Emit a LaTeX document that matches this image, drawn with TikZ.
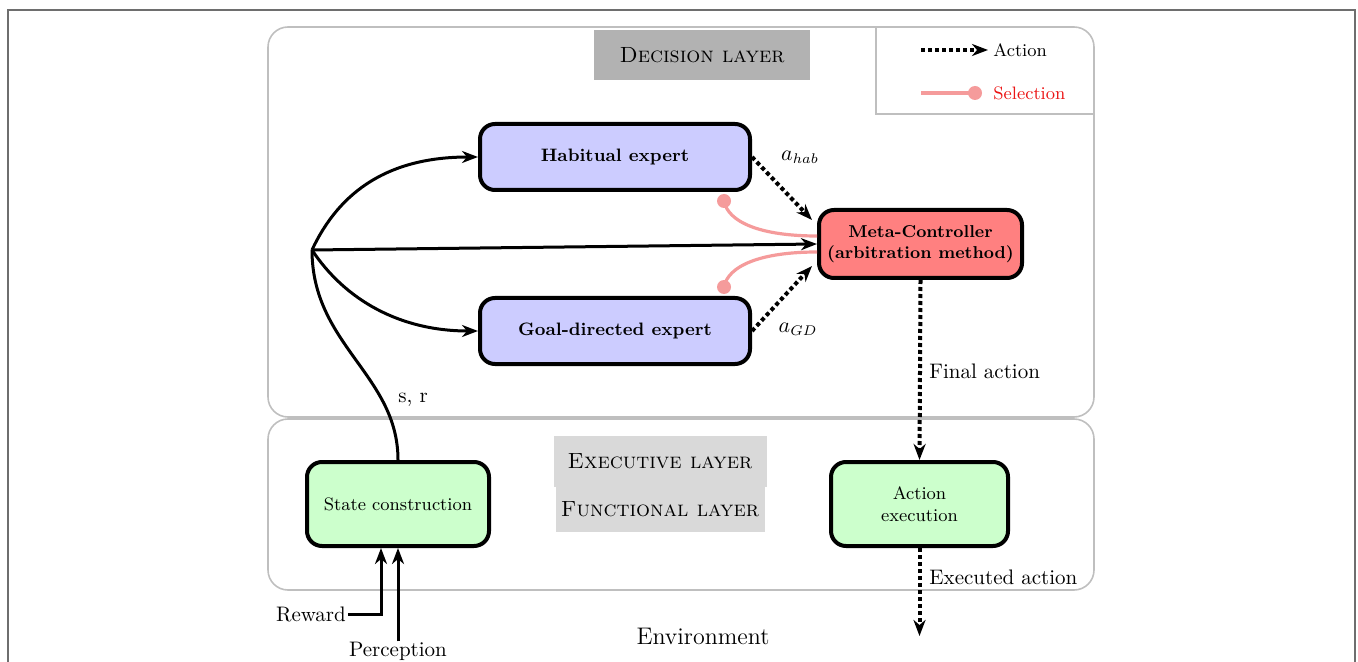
\documentclass[tikz,border=0pt]{standalone}
\usetikzlibrary{arrows.meta,calc}
\definecolor{boxblue}{RGB}{204,204,255}
\definecolor{boxred}{RGB}{255,128,128}
\definecolor{boxgreen}{RGB}{204,255,204}
\definecolor{selpink}{RGB}{245,155,155}
\definecolor{seltext}{RGB}{235,20,20}
\definecolor{framegray}{RGB}{110,110,110}
\tikzset{
  panel/.style={draw=gray!50, line width=0.8pt, rounded corners=10pt, inner sep=0pt},
  layerlabel/.style={inner sep=0pt, font=\fontsize{11}{13}\selectfont\scshape},
  blockbox/.style={draw=black, line width=2pt, rounded corners=7.5pt, inner sep=0pt, align=center},
  expertbox/.style={blockbox, fill=boxblue, minimum width=135pt, minimum height=33pt, font=\fontsize{9}{11}\selectfont\bfseries},
  metabox/.style={blockbox, fill=boxred, minimum width=101.5pt, minimum height=34pt, font=\fontsize{8.6}{10.6}\selectfont\bfseries},
  funcbox/.style={blockbox, fill=boxgreen, minimum height=42pt, font=\fontsize{9}{11}\selectfont},
  flow/.style={line width=1.5pt, -{Stealth[length=8pt,width=6pt,inset=2.5pt]}},
  actflow/.style={line width=2pt, dash pattern=on 2pt off 1.5pt, -{Stealth[length=8pt,width=6pt,inset=2.5pt]}},
  selflow/.style={line width=1.6pt, draw=selpink},
  seldot/.style={fill=selpink},
  lbl/.style={inner sep=0pt, font=\fontsize{10.5}{12.6}\selectfont},
}
\begin{document}
\begin{tikzpicture}[x=0.5pt,y=-0.5pt]
\useasboundingbox (0,0) rectangle (1358,662);
% outer frame
\draw[framegray, line width=1pt] (8,662) -- (8,10) -- (1355,10) -- (1355,662);
% layer panels
\node[panel, minimum width=413pt, minimum height=195pt] (decision) at (681,222) {};
\node[panel, minimum width=413pt, minimum height=85.5pt] (executive) at (681,504.5) {};
% legend frame
\draw[draw=gray!50, line width=0.8pt] (876,27) -- (876,114) -- (1094,114);
% layer labels
\node[layerlabel, fill=gray!60, minimum width=108pt, minimum height=25pt] (declbl) at (702,55) {Decision layer};
\node[layerlabel, fill=gray!30, minimum width=106.5pt, minimum height=25.5pt] (execlbl) at (660,461) {Executive layer};
\node[layerlabel, fill=gray!30, minimum width=104.5pt, minimum height=23pt] (funclbl) at (660,509) {Functional layer};
% legend
\coordinate (la1) at (921,50);
\coordinate (la2) at (988,50);
\draw[actflow] (la1) -- (la2);
\node[lbl, anchor=west, font=\fontsize{9}{11}\selectfont] (legact) at (993,50) {Action};
\coordinate (ls1) at (921,93);
\coordinate (ls2) at (975,93);
\draw[selflow] (ls1) -- (ls2);
\fill[seldot] (ls2) circle (3.5pt);
\node[lbl, anchor=west, text=seltext, font=\fontsize{9}{11}\selectfont] (legsel) at (993,93) {Selection};
% blocks
\node[expertbox] (hab) at (615,157) {Habitual expert};
\node[expertbox] (goal) at (615,331) {Goal-directed expert};
\node[metabox] (meta) at (920.5,244) {Meta-Controller\\(arbitration method)};
\node[funcbox, minimum width=91pt] (state) at (398,504) {State construction};
\node[funcbox, minimum width=88.5pt] (act) at (919.5,504) {Action\\execution};
% branch point
\coordinate (br) at (312,250);
\draw[flow] (br) .. controls (340,190) and (390,157) .. (hab.west);
\draw[flow] (br) .. controls (345,300) and (400,331) .. (goal.west);
\draw[flow] (br) -- (meta.west);
\draw[line width=1.5pt] (state.north) .. controls (398,375) and (312,345) .. (br);
\node[lbl, anchor=west] (sr) at (398,400) {s, r};
% selection curves
\coordinate (selh) at (724,201);
\coordinate (selg) at (724,287);
\draw[selflow] ($(meta.west)+(0,-8)$) .. controls (760,236) and (728,222) .. (selh);
\draw[selflow] ($(meta.west)+(0,8)$) .. controls (760,252) and (728,266) .. (selg);
\fill[seldot] (selh) circle (3.5pt);
\fill[seldot] (selg) circle (3.5pt);
% action arrows
\draw[actflow] (hab.east) -- ($(meta.west)+(-5,-24)$);
\draw[actflow] (goal.east) -- ($(meta.west)+(-5,22)$);
\node[lbl] (ahab) at (800,157) {$a_{hab}$};
\node[lbl] (agd) at (798,329) {$a_{GD}$};
% final / executed action
\draw[actflow] (meta.south) -- (act.north);
\node[lbl, anchor=west] (finlbl) at (929,371) {Final action};
\coordinate (envout) at (919.5,636);
\draw[actflow] (act.south) -- (envout);
\node[lbl, anchor=west] (exlbl) at (929,577) {Executed action};
\node[lbl, font=\fontsize{12}{14}\selectfont] (env) at (703,636) {Environment};
% inputs
\node[lbl] (reward) at (311,614) {Reward};
\node[lbl] (percep) at (398,651) {Perception};
\draw[flow] (reward.east) ++(2,0) -| ($(state.south)+(-17,0)$);
\draw[flow] (percep.north) -- (state.south);
\end{tikzpicture}
\end{document}
